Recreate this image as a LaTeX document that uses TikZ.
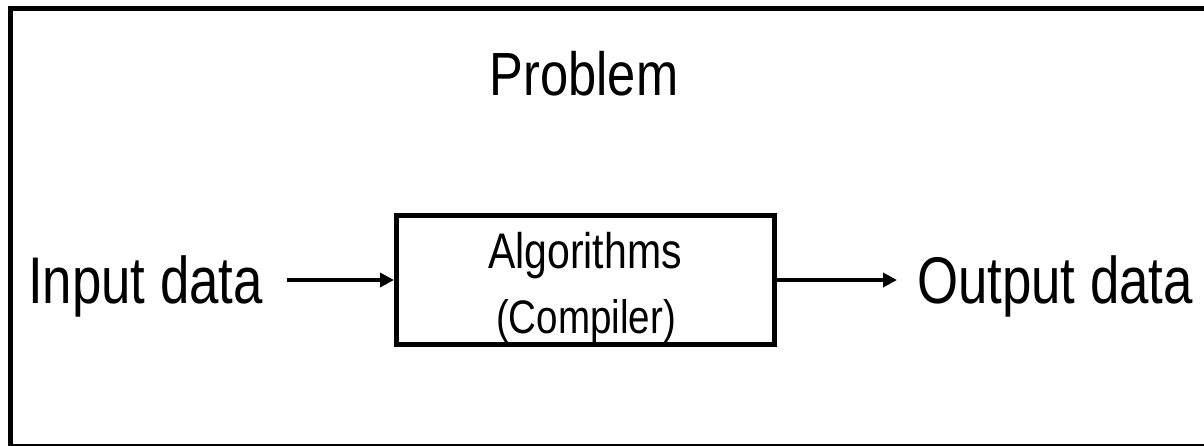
\documentclass[tikz,border=0pt]{standalone}
\usepackage{fontspec}
\usepackage{graphicx}
\setmainfont{Liberation Sans}
\usetikzlibrary{arrows.meta}

\tikzset{
  frame/.style={draw=black, line width=5pt},
  blockbox/.style={draw=black, line width=5pt, inner sep=0pt,
    minimum width=377.5pt, minimum height=129pt},
  label/.style={inner sep=0pt, outer sep=0pt, anchor=base},
  flow/.style={line width=3.6pt, -{Triangle[length=14pt,width=14pt]}}
}

\begin{document}
\begin{tikzpicture}[x=1pt, y=-1pt]
  \useasboundingbox (0,0) rectangle (1204,445);
  \clip (0,0) rectangle (1204,445);

  % outer frame of the problem
  \draw[frame] (10.5,8) rectangle (1215,446);

  \node[label] (title) at (584,95)
    {\scalebox{0.83}[1]{\fontsize{61}{61}\selectfont Problem}};

  % processing block
  \node[blockbox] (box) at (585.25,280) {};
  \node[label] (alg) at (585,268)
    {\scalebox{0.82}[1]{\fontsize{50}{50}\selectfont Algorithms}};
  \node[label] (comp) at (586,333)
    {\scalebox{0.82}[1]{\fontsize{47}{47}\selectfont (Compiler)}};

  % input and output
  \node[label, anchor=base west] (inp) at (28,303)
    {\scalebox{0.8}[1]{\fontsize{66}{66}\selectfont Input data}};
  \node[label, anchor=base west] (outp) at (917,303)
    {\scalebox{0.8}[1]{\fontsize{66}{66}\selectfont Output data}};

  \coordinate (inend) at (287,280);
  \coordinate (outend) at (897,280);
  \draw[flow] (inend) -- (box.west);
  \draw[flow] (box.east) -- (outend);
\end{tikzpicture}
\end{document}
